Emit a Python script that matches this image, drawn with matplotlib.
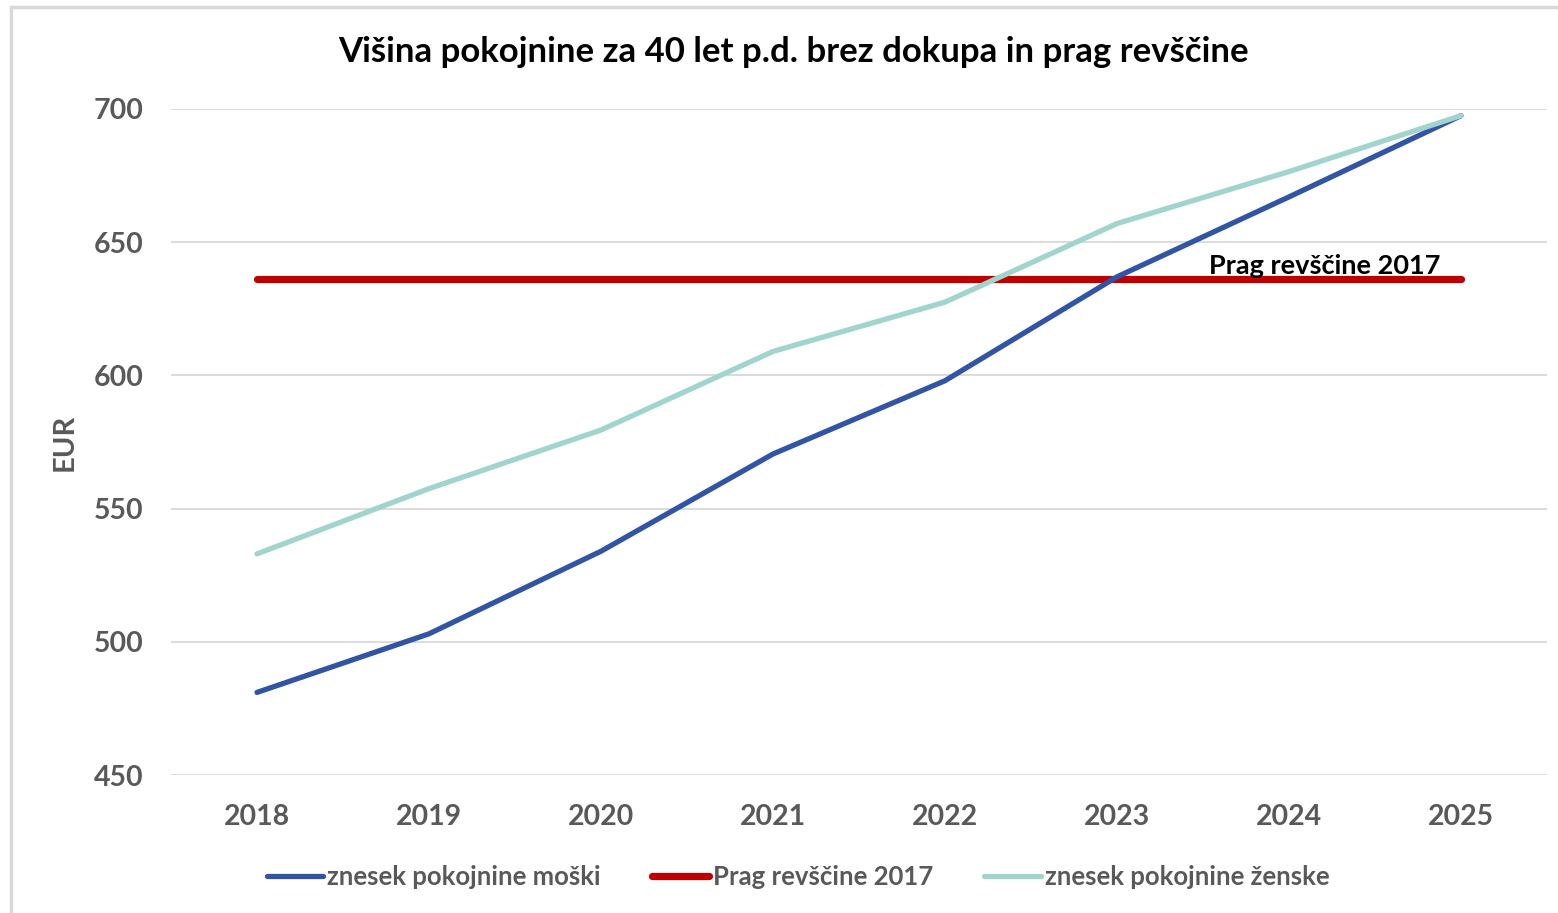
import matplotlib
matplotlib.use('Agg')
import matplotlib.pyplot as plt
from matplotlib.patches import Rectangle

plt.rcParams['font.family'] = ['Lato', 'DejaVu Sans']
plt.rcParams['font.weight'] = 'bold'

# data
years = ['2018', '2019', '2020', '2021', '2022', '2023', '2024', '2025']
men = [481, 503, 534, 570.5, 598, 637, 667, 697.5]
poverty = [636, 636, 636, 636, 636, 636, 636, 636]
women = [533, 557.5, 579.5, 609, 627.5, 657, 676.5, 697.5]

TEXT_GREY = '#595959'

fig = plt.figure(figsize=(15.58, 9.13), dpi=100)
ax = fig.add_axes([171 / 1558, 1 - 775 / 913, (1547 - 171) / 1558, (775 - 109) / 913])

# chart frame like Excel
fig.patches.append(Rectangle((11 / 1558, -0.05), 1.1, 1 - 7 / 913 + 0.05,
                             transform=fig.transFigure, fill=False,
                             edgecolor='#D9D9D9', linewidth=2.5, zorder=0))

x = range(len(years))
ax.plot(x, men, color='#3155A4', linewidth=3.8, solid_capstyle='round',
        label='znesek pokojnine moški', zorder=3)
ax.plot(x, poverty, color='#C00000', linewidth=5.2, solid_capstyle='round',
        label='Prag revščine 2017', zorder=2)
ax.plot(x, women, color='#A0D5CE', linewidth=3.8, solid_capstyle='round',
        label='znesek pokojnine ženske', zorder=4)

ax.text(6.21, 638, 'Prag revščine 2017', ha='center', va='baseline',
        fontsize=19.5, fontweight='bold', color='black', zorder=5)

ax.set_xlim(-0.5, 7.5)
ax.set_ylim(450, 700)
ax.set_yticks([450, 500, 550, 600, 650, 700])
ax.set_xticks(list(x))
ax.set_xticklabels(years)
ax.yaxis.grid(True, color='#D9D9D9', linewidth=1.3)
ax.set_axisbelow(True)
for s in ax.spines.values():
    s.set_visible(False)
ax.tick_params(length=0, labelsize=20.5, labelcolor=TEXT_GREY, pad=21)
ax.tick_params(axis='y', pad=20)
for lbl in ax.get_xticklabels() + ax.get_yticklabels():
    lbl.set_fontweight('bold')

fig.text(65 / 1558, 1 - 442 / 913, 'EUR', rotation=90, ha='center', va='center',
         fontsize=21, fontweight='bold', color=TEXT_GREY)

fig.text(793 / 1558, 1 - 52 / 913, 'Višina pokojnine za 40 let p.d. brez dokupa in prag revščine',
         ha='center', va='center', fontsize=25, fontweight='bold', color='black')

leg = fig.legend(loc='center', bbox_to_anchor=(798 / 1558, 1 - 877 / 913), ncol=3,
                 frameon=False, fontsize=18.5, handlelength=2.2, handletextpad=0.15,
                 columnspacing=2.0)
for t in leg.get_texts():
    t.set_color(TEXT_GREY)
    t.set_fontweight('bold')

fig.savefig('out.png', dpi=100)
